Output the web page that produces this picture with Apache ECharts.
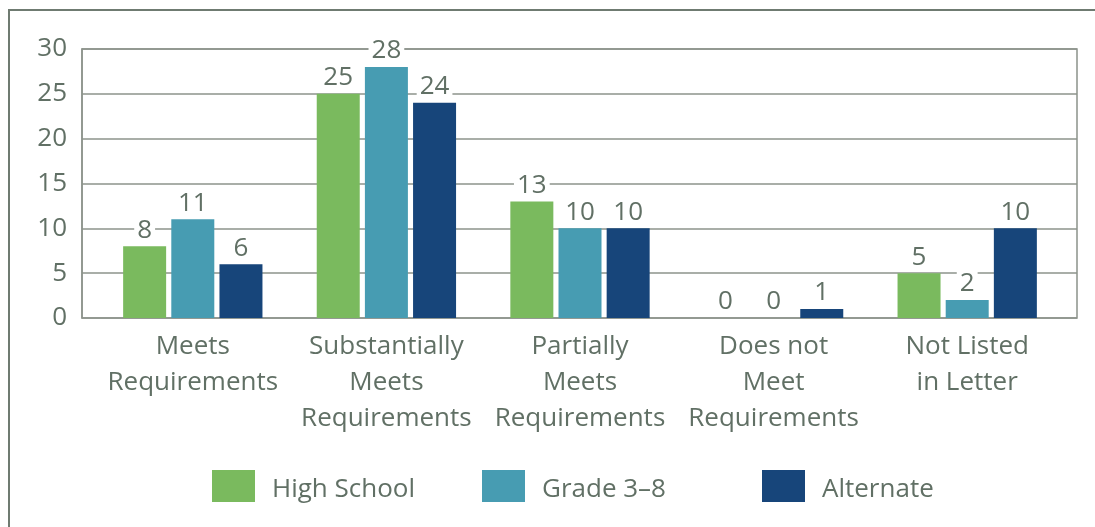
<!DOCTYPE html>
<html>
<head>
<meta charset="utf-8">
<script src="https://cdn.jsdelivr.net/npm/echarts@6/dist/echarts.min.js"></script>
<style>
  html, body { margin: 0; padding: 0; background: #fff; }
  #chart { width: 1095px; height: 527px; }
</style>
</head>
<body>
<div id="chart"></div>
<script>
// Rating categories along the x axis
const categories = [
  'Meets\nRequirements',
  'Substantially\nMeets\nRequirements',
  'Partially\nMeets\nRequirements',
  'Does not\nMeet\nRequirements',
  'Not Listed\nin Letter'
];

// Counts per assessment type
const highSchool = [8, 25, 13, 0, 5];
const grade38 = [11, 28, 10, 0, 2];
const alternate = [6, 24, 10, 1, 10];

const seriesNames = ['High School', 'Grade 3\u20138', 'Alternate'];
const seriesColors = ['#7aba5e', '#479cb2', '#17457a'];

const yMin = 0, yMax = 30, yStep = 5;

const textColor = '#617065';
const lineColor = '#8c938b';
const fontFamily = '"Open Sans", "Noto Sans", sans-serif';

const chart = echarts.init(document.getElementById('chart'), null, { renderer: 'canvas' });

const valueLabel = {
  show: true,
  position: 'top',
  distance: 3,
  fontFamily: fontFamily,
  fontSize: 26,
  lineHeight: 26,
  color: textColor,
  backgroundColor: '#fff',
  padding: [0, 3, 0, 3]
};

function makeSeries(name, data, color) {
  return {
    name: name,
    type: 'bar',
    xAxisIndex: 0,
    yAxisIndex: 0,
    data: data,
    barWidth: 43,
    barGap: '12%',
    itemStyle: { color: color },
    label: valueLabel
  };
}

function makeLegend(name, left) {
  return {
    data: [name],
    left: left,
    top: 465,
    icon: 'rect',
    itemWidth: 43,
    itemHeight: 32,
    selectedMode: false,
    formatter: '{t|{name}}',
    textStyle: {
      rich: {
        t: {
          fontFamily: fontFamily,
          fontSize: 26,
          color: textColor,
          padding: [8, 0, 0, 12]
        }
      }
    }
  };
}

chart.setOption({
  animation: false,
  backgroundColor: '#fff',
  graphic: [{
    type: 'polyline',
    shape: { points: [[9, 527], [9, 10], [1095, 10]] },
    style: { stroke: '#6f7b71', lineWidth: 2, fill: null },
    silent: true
  }],
  legend: [
    makeLegend(seriesNames[0], 207),
    makeLegend(seriesNames[1], 477),
    makeLegend(seriesNames[2], 757)
  ],
  grid: [
    // bars
    { left: 96, right: 31, top: 49, bottom: 209, containLabel: false },
    // frame, value ticks and gridlines
    { left: 82, right: 18, top: 49, bottom: 209, containLabel: false,
      show: true, borderColor: lineColor, borderWidth: 1.5, backgroundColor: 'transparent' }
  ],
  xAxis: [
    {
      type: 'category',
      gridIndex: 0,
      data: categories,
      axisLine: { show: false },
      axisTick: { show: false },
      axisLabel: {
        fontFamily: fontFamily,
        fontSize: 26,
        lineHeight: 36,
        color: textColor,
        margin: 11,
        interval: 0,
        align: 'center',
        verticalAlign: 'top'
      }
    },
    {
      type: 'value',
      gridIndex: 1,
      show: false
    }
  ],
  yAxis: [
    {
      type: 'value',
      gridIndex: 0,
      min: yMin, max: yMax, interval: yStep,
      show: false
    },
    {
      type: 'value',
      gridIndex: 1,
      min: yMin, max: yMax, interval: yStep,
      axisLine: { show: true, lineStyle: { color: lineColor, width: 1.5 } },
      axisTick: { show: false },
      splitLine: { show: true, lineStyle: { color: lineColor, width: 1.5 } },
      axisLabel: {
        fontFamily: fontFamily,
        fontSize: 26,
        color: textColor,
        margin: 15
      }
    }
  ],
  series: [
    makeSeries(seriesNames[0], highSchool, seriesColors[0]),
    makeSeries(seriesNames[1], grade38, seriesColors[1]),
    makeSeries(seriesNames[2], alternate, seriesColors[2])
  ]
});
</script>
</body>
</html>
